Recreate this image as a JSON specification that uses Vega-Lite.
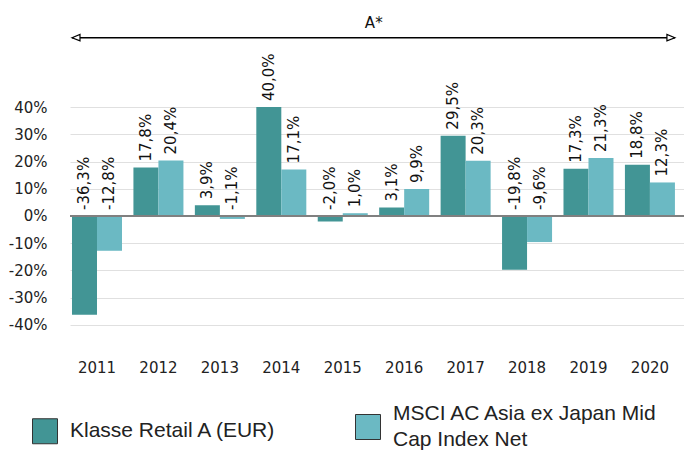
{
  "$schema": "https://vega.github.io/schema/vega-lite/v6.json",
  "width": 614,
  "height": 332,
  "autosize": {"type": "none"},
  "padding": {"left": 70, "top": 20, "right": 0, "bottom": 103},
  "background": "white",
  "config": {
    "locale": {"number": {"decimal": ",", "thousands": ".", "grouping": [3], "currency": ["", " €"], "minus": "-"}},
    "view": {"stroke": null},
    "font": "DejaVu Sans"
  },
  "data": {
    "values": [
      {"year": "2011", "series": "Klasse Retail A (EUR)", "value": -0.363},
      {"year": "2011", "series": "MSCI AC Asia ex Japan Mid Cap Index Net", "value": -0.128},
      {"year": "2012", "series": "Klasse Retail A (EUR)", "value": 0.178},
      {"year": "2012", "series": "MSCI AC Asia ex Japan Mid Cap Index Net", "value": 0.204},
      {"year": "2013", "series": "Klasse Retail A (EUR)", "value": 0.039},
      {"year": "2013", "series": "MSCI AC Asia ex Japan Mid Cap Index Net", "value": -0.011},
      {"year": "2014", "series": "Klasse Retail A (EUR)", "value": 0.400},
      {"year": "2014", "series": "MSCI AC Asia ex Japan Mid Cap Index Net", "value": 0.171},
      {"year": "2015", "series": "Klasse Retail A (EUR)", "value": -0.020},
      {"year": "2015", "series": "MSCI AC Asia ex Japan Mid Cap Index Net", "value": 0.010},
      {"year": "2016", "series": "Klasse Retail A (EUR)", "value": 0.031},
      {"year": "2016", "series": "MSCI AC Asia ex Japan Mid Cap Index Net", "value": 0.099},
      {"year": "2017", "series": "Klasse Retail A (EUR)", "value": 0.295},
      {"year": "2017", "series": "MSCI AC Asia ex Japan Mid Cap Index Net", "value": 0.203},
      {"year": "2018", "series": "Klasse Retail A (EUR)", "value": -0.198},
      {"year": "2018", "series": "MSCI AC Asia ex Japan Mid Cap Index Net", "value": -0.096},
      {"year": "2019", "series": "Klasse Retail A (EUR)", "value": 0.173},
      {"year": "2019", "series": "MSCI AC Asia ex Japan Mid Cap Index Net", "value": 0.213},
      {"year": "2020", "series": "Klasse Retail A (EUR)", "value": 0.188},
      {"year": "2020", "series": "MSCI AC Asia ex Japan Mid Cap Index Net", "value": 0.123}
    ]
  },
  "layer": [
    {
      "mark": {"type": "bar"},
      "encoding": {
        "x": {
          "field": "year", "type": "nominal",
          "scale": {"paddingInner": 0.186, "paddingOuter": 0.09, "align": 0.18},
          "axis": {"title": null, "domain": false, "ticks": false, "labelAngle": 0, "labelFontSize": 15, "labelColor": "#222", "labelPadding": 8, "grid": false}
        },
        "xOffset": {"field": "series", "type": "nominal", "sort": ["Klasse Retail A (EUR)", "MSCI AC Asia ex Japan Mid Cap Index Net"], "scale": {"paddingInner": 0, "paddingOuter": 0}},
        "y": {
          "field": "value", "type": "quantitative",
          "scale": {"domain": [-0.5, 0.72], "nice": false, "zero": false},
          "axis": {"title": null, "values": [-0.4, -0.3, -0.2, -0.1, 0, 0.1, 0.2, 0.3, 0.4], "format": ".0%", "domain": false, "ticks": false, "grid": true, "gridColor": "#e0e0e0", "gridWidth": 1, "labelFontSize": 15, "labelColor": "#222", "labelPadding": 23}
        },
        "color": {
          "field": "series", "type": "nominal",
          "scale": {"domain": ["Klasse Retail A (EUR)", "MSCI AC Asia ex Japan Mid Cap Index Net"], "range": ["#429595", "#6bb9c3"]},
          "legend": {
            "title": null, "orient": "none", "legendX": -38, "legendY": 394,
            "direction": "horizontal", "columns": 2, "gridAlign": "all", "columnPadding": 18,
            "symbolType": "square", "symbolSize": 625, "symbolStrokeColor": "#333", "symbolStrokeWidth": 1, "symbolOpacity": 1,
            "labelFont": "Liberation Sans", "labelFontSize": 21, "labelColor": "#222", "labelOffset": 12, "labelLimit": 400,
            "labelExpr": "datum.label == 'MSCI AC Asia ex Japan Mid Cap Index Net' ? ['MSCI AC Asia ex Japan Mid', 'Cap Index Net'] : datum.label",
            "encoding": {
              "labels": {
                "dy": {"value": {"expr": "datum.value == 'MSCI AC Asia ex Japan Mid Cap Index Net' ? -13 : 0"}},
                "lineHeight": {"value": 26}
              }
            }
          }
        }
      }
    },
    {
      "mark": {"type": "rule", "color": "#808080", "strokeWidth": 1.5},
      "encoding": {"y": {"datum": 0}}
    },
    {
      "transform": [{"calculate": "max(datum.value, 0)", "as": "labelPos"}],
      "mark": {"type": "text", "angle": 270, "align": "left", "baseline": "middle", "dx": 6, "fontSize": 15, "color": "#111"},
      "encoding": {
        "x": {"field": "year", "type": "nominal"},
        "xOffset": {"field": "series", "type": "nominal", "sort": ["Klasse Retail A (EUR)", "MSCI AC Asia ex Japan Mid Cap Index Net"]},
        "y": {"field": "labelPos", "type": "quantitative"},
        "text": {"field": "value", "type": "quantitative", "format": ".1%"}
      }
    },
    {
      "data": {"values": [{"label": "A*", "from": "2011", "to": "2020"}]},
      "layer": [
        {
          "mark": {"type": "rule", "color": "black", "strokeWidth": 1.5},
          "encoding": {
            "x": {"field": "from", "type": "nominal", "bandPosition": 0},
            "x2": {"field": "to", "bandPosition": 1},
            "y": {"datum": 0.655}
          }
        },
        {
          "mark": {"type": "point", "shape": "M0,0L2,-0.8L2,0.8Z", "filled": true, "fill": "white", "stroke": "black", "strokeWidth": 1.2, "size": 64, "opacity": 1},
          "encoding": {"x": {"field": "from", "type": "nominal", "bandPosition": 0}, "y": {"datum": 0.655}}
        },
        {
          "mark": {"type": "point", "shape": "M0,0L-2,-0.8L-2,0.8Z", "filled": true, "fill": "white", "stroke": "black", "strokeWidth": 1.2, "size": 64, "opacity": 1},
          "encoding": {"x": {"field": "to", "type": "nominal", "bandPosition": 1}, "y": {"datum": 0.655}}
        },
        {
          "mark": {"type": "text", "fontSize": 15, "baseline": "middle", "align": "center", "dx": 6, "color": "#111"},
          "encoding": {"x": {"datum": "2015", "bandPosition": 1}, "y": {"datum": 0.71}, "text": {"field": "label"}}
        }
      ]
    }
  ]
}
